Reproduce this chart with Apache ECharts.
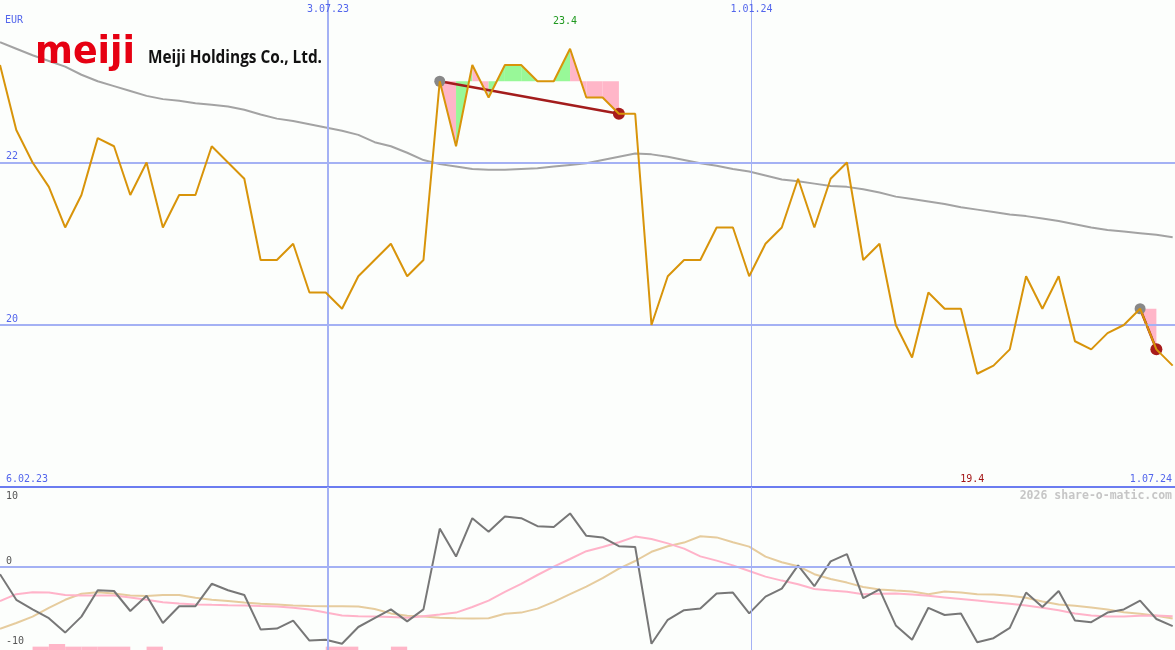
<!DOCTYPE html>
<html><head><meta charset="utf-8">
<script src="https://cdn.jsdelivr.net/npm/echarts@6/dist/echarts.min.js"></script>
<style>html,body{margin:0;padding:0;background:#fcfefc}#c{width:1175px;height:650px}</style>
</head><body><div id="c"></div>
<script>
// ---------- data ----------
const currency = 'EUR';
const companyMark = 'meiji';
const companyName = 'Meiji Holdings Co., Ltd.';
const watermark = '2026 share-o-matic.com';
const startDate = '2023-02-12';      // first weekly point
const endDate = '2024-07-01';        // right edge
const price = [23.2,22.4,22.0,21.7,21.2,21.6,22.3,22.2,21.6,22.0,21.2,21.6,21.6,22.2,22.0,21.8,20.8,20.8,21.0,20.4,
  20.4,20.2,20.6,20.8,21.0,20.6,20.8,23.0,22.2,23.2,22.8,23.2,23.2,23.0,23.0,23.4,22.8,22.8,22.6,22.6,
  20.0,20.6,20.8,20.8,21.2,21.2,20.6,21.0,21.2,21.8,21.2,21.8,22.0,20.8,21.0,20.0,19.6,20.4,20.2,20.2,
  19.4,19.5,19.7,20.6,20.2,20.6,19.8,19.7,19.9,20.0,20.2,19.7,19.5];
const movingAvg = [23.48,23.40,23.32,23.25,23.18,23.08,23.00,22.94,22.88,22.82,22.78,22.76,22.73,22.71,22.69,22.65,22.59,22.54,22.51,22.47,
  22.43,22.39,22.34,22.25,22.20,22.12,22.03,21.98,21.95,21.92,21.91,21.91,21.92,21.93,21.95,21.97,21.99,22.03,22.07,22.11,
  22.10,22.07,22.03,21.99,21.96,21.92,21.89,21.84,21.79,21.77,21.74,21.71,21.70,21.67,21.63,21.58,21.55,21.52,21.49,21.45,
  21.42,21.39,21.36,21.34,21.31,21.28,21.24,21.20,21.17,21.15,21.13,21.11,21.08];
const oscillator = [-0.9,-4.1,-5.3,-6.4,-8.2,-6.2,-2.9,-3.0,-5.5,-3.6,-7.0,-4.9,-4.9,-2.1,-2.9,-3.5,-7.8,-7.7,-6.7,-9.2,
  -9.1,-9.6,-7.5,-6.4,-5.3,-6.8,-5.3,4.8,1.3,6.1,4.4,6.3,6.1,5.1,5.0,6.7,3.9,3.7,2.6,2.5,
  -9.6,-6.6,-5.4,-5.2,-3.3,-3.2,-5.8,-3.7,-2.7,0.2,-2.4,0.7,1.6,-3.9,-2.8,-7.3,-9.1,-5.1,-6.0,-5.8,
  -9.4,-8.9,-7.6,-3.2,-5.0,-3.0,-6.7,-6.9,-5.7,-5.3,-4.2,-6.5,-7.4];
const oscPink = [-4.27,-3.4,-3.15,-3.2,-3.5,-3.56,-3.56,-3.56,-3.8,-4.1,-4.4,-4.55,-4.68,-4.73,-4.77,-4.8,-4.88,-4.95,-5.1,-5.3,
  -5.7,-6.05,-6.17,-6.2,-6.25,-6.35,-6.15,-5.95,-5.7,-5.0,-4.2,-3.1,-2.1,-1.0,0.05,1.0,1.98,2.5,3.1,3.8,
  3.5,2.95,2.3,1.33,0.8,0.2,-0.5,-1.2,-1.7,-2.15,-2.75,-2.95,-3.08,-3.4,-3.35,-3.3,-3.45,-3.6,-3.8,-4.0,
  -4.2,-4.4,-4.6,-4.8,-5.1,-5.4,-5.8,-6.05,-6.2,-6.2,-6.08,-6.05,-6.15];
const oscTan = [-7.73,-7.0,-6.2,-5.1,-4.1,-3.35,-3.15,-3.3,-3.55,-3.62,-3.5,-3.5,-3.85,-4.1,-4.25,-4.45,-4.6,-4.7,-4.8,-4.88,
  -4.9,-4.9,-4.95,-5.25,-5.8,-6.1,-6.2,-6.33,-6.4,-6.43,-6.4,-5.85,-5.7,-5.2,-4.35,-3.4,-2.45,-1.4,-0.2,0.75,
  1.9,2.6,3.05,3.85,3.7,3.1,2.55,1.3,0.6,0.1,-0.9,-1.5,-1.95,-2.5,-2.8,-2.95,-3.05,-3.4,-3.05,-3.2,
  -3.42,-3.44,-3.6,-3.85,-4.3,-4.68,-4.85,-5.05,-5.3,-5.65,-5.85,-6.1,-6.45];
const barWeeks = [2,3,4,5,6,7,9,20,21,24];
const barHeights = [0.42,0.75,0.42,0.42,0.42,0.42,0.42,0.42,0.42,0.42];
const signalStart = [27,70];
const signalEnd = [38,71];
const priceTicks = [22,20];
const oscTicks = [10,0,-10];
const gridDates = ['2023-07-03','2024-01-01'];
const gridDateLabels = ['3.07.23','1.01.24'];
const rangeLabels = ['6.02.23','1.07.24'];

// ---------- styles ----------
const BG = '#fcfefc', gridBlue = '#a4b1f4', borderBlue = '#6b7cf0', labelBlue = '#5366ec';
const mono = '"DejaVu Sans Mono", monospace';
const DAY = 864e5;
const t0 = Date.parse(startDate), tEnd = Date.parse(endDate);
const weekTs = price.map((_, k) => t0 + k * 7 * DAY);
const oscMin = -10.375, oscMax = 10;

const segs = [];
signalStart.forEach((s, i) => {
  const e = signalEnd[i], ref = price[s];
  for (let k = s; k < e; k++) segs.push([weekTs[k], price[k], weekTs[k + 1], price[k + 1], ref]);
});

const vLines = gridDates.map((d, i) => ({xAxis: Date.parse(d), lineStyle: {color: gridBlue, width: i === 0 ? 2 : 1, type: 'solid'}}));

const chart = echarts.init(document.getElementById('c'), null, {renderer: 'canvas'});
const series = [
  {type: 'line', xAxisIndex: 0, yAxisIndex: 0, z: 2, silent: true, symbol: 'none',
   data: weekTs.map((t, k) => [t, movingAvg[k]]), lineStyle: {color: '#a3a3a3', width: 2},
   markLine: {silent: true, symbol: 'none', animation: false, label: {show: false},
     data: priceTicks.map(v => ({yAxis: v, lineStyle: {color: gridBlue, width: 2, type: 'solid'}})).concat(vLines)}},
  {type: 'custom', xAxisIndex: 0, yAxisIndex: 0, z: 3, silent: true, data: segs,
   encode: {x: [0, 2], y: [1, 3, 4]},
   renderItem: (p, api) => {
     const xa = api.value(0), ya = api.value(1), xb = api.value(2), yb = api.value(3), ref = api.value(4);
     return {type: 'polygon', shape: {points: [api.coord([xa, ref]), api.coord([xa, ya]), api.coord([xb, yb]), api.coord([xb, ref])]},
       style: {fill: yb >= ref ? '#98f898' : '#ffb6c8'}};
   }}
];
signalStart.forEach((s, i) => {
  const e = signalEnd[i];
  series.push({type: 'line', xAxisIndex: 0, yAxisIndex: 0, z: 4, silent: true, symbol: 'none',
    data: [[weekTs[s], price[s]], [weekTs[e], price[e]]], lineStyle: {color: '#a31c1c', width: 2.5}});
});
series.push({type: 'scatter', xAxisIndex: 0, yAxisIndex: 0, z: 5, silent: true, symbolSize: 11,
  itemStyle: {color: '#888888', opacity: 1}, data: signalStart.map(s => [weekTs[s], price[s]])});
series.push({type: 'scatter', xAxisIndex: 0, yAxisIndex: 0, z: 5, silent: true, symbolSize: 12,
  itemStyle: {color: '#a81c1c', opacity: 1}, data: signalEnd.map(s => [weekTs[s], price[s]])});
series.push({type: 'line', xAxisIndex: 0, yAxisIndex: 0, z: 6, silent: true, symbol: 'none',
  data: weekTs.map((t, k) => [t, price[k]]), lineStyle: {color: '#d8940a', width: 2}});
// oscillator panel
series.push({type: 'custom', xAxisIndex: 1, yAxisIndex: 1, z: 1, silent: true,
  data: barWeeks.map((k, i) => [weekTs[k], weekTs[k + 1], barHeights[i]]),
  encode: {x: [0, 1], y: 2},
  renderItem: (p, api) => {
    const a = api.coord([api.value(0), oscMin + api.value(2)]), b = api.coord([api.value(1), oscMin]);
    return {type: 'rect', shape: {x: a[0], y: a[1], width: b[0] - a[0], height: b[1] - a[1]}, style: {fill: '#ffb6c8'}};
  }});
series.push({type: 'line', xAxisIndex: 1, yAxisIndex: 1, z: 2, silent: true, symbol: 'none',
  data: weekTs.map((t, k) => [t, oscTan[k]]), lineStyle: {color: '#e6cc9e', width: 2},
  markLine: {silent: true, symbol: 'none', animation: false, label: {show: false},
    data: [{yAxis: oscTicks[0], lineStyle: {color: borderBlue, width: 2, type: 'solid'}},
           {yAxis: oscTicks[1], lineStyle: {color: gridBlue, width: 2, type: 'solid'}}].concat(vLines)}});
series.push({type: 'line', xAxisIndex: 1, yAxisIndex: 1, z: 3, silent: true, symbol: 'none',
  data: weekTs.map((t, k) => [t, oscPink[k]]), lineStyle: {color: '#ffb3c9', width: 2}});
series.push({type: 'line', xAxisIndex: 1, yAxisIndex: 1, z: 4, silent: true, symbol: 'none',
  data: weekTs.map((t, k) => [t, oscillator[k]]), lineStyle: {color: '#777777', width: 2}});

chart.setOption({
  animation: false,
  backgroundColor: BG,
  grid: [{left: 0, right: 0, top: 0, height: 487}, {left: 0, right: 0, top: 487, height: 163}],
  xAxis: [{gridIndex: 0, type: 'time', min: t0, max: tEnd, show: false},
          {gridIndex: 1, type: 'time', min: t0, max: tEnd, show: false}],
  yAxis: [{gridIndex: 0, type: 'value', min: 18.006, max: 24, show: false},
          {gridIndex: 1, type: 'value', min: oscMin, max: oscMax, show: false}],
  series: series
});

// ---------- texts ----------
const px = t => chart.convertToPixel({xAxisIndex: 0}, t);
const pyMain = v => chart.convertToPixel({yAxisIndex: 0}, v);
const pyOsc = v => chart.convertToPixel({yAxisIndex: 1}, v);
function measure(text, font) { const c = document.createElement('canvas').getContext('2d'); c.font = font; return c.measureText(text).width; }
const W = chart.getWidth();
const txt = (x, y, text, fill, font, align, va, extra) => Object.assign({type: 'text', x: x, y: y, silent: true, z: 100,
  style: {text: text, fill: fill, font: font, align: align || 'left', verticalAlign: va || 'middle'}}, extra || {});
const g = [];
g.push(txt(5, 20, currency, labelBlue, '10px ' + mono));
priceTicks.forEach(v => g.push(txt(6, pyMain(v) - 1, String(v), labelBlue, '10px ' + mono, 'left', 'bottom')));
const oscTop = pyOsc(oscMax);
oscTicks.forEach(v => g.push(txt(6, Math.max(pyOsc(v) - 1, oscTop + 14), String(v), '#555555', '10px ' + mono, 'left', 'bottom')));
gridDates.forEach((d, i) => g.push(txt(px(Date.parse(d)), 9, gridDateLabels[i], labelBlue, '10px ' + mono, 'center')));
g.push(txt(6, 479, rangeLabels[0], labelBlue, '10px ' + mono, 'left'));
g.push(txt(W - 3, 479, rangeLabels[1], labelBlue, '10px ' + mono, 'right'));
let kMax = 0, kMin = 0;
price.forEach((v, k) => { if (v > price[kMax]) kMax = k; if (v < price[kMin]) kMin = k; });
g.push(txt(px(weekTs[kMax]) - 5, 21, price[kMax].toFixed(1), '#1f991f', '10px ' + mono, 'center'));
g.push(txt(px(weekTs[kMin]) - 5, 479, price[kMin].toFixed(1), '#a31515', '10px ' + mono, 'center'));
g.push(txt(W - 3, 496, watermark, '#c6c6c6', 'bold 11.5px ' + mono, 'right'));
const markFont = 'bold 37px "DejaVu Sans"';
g.push(txt(35, 53, companyMark, '#e60012', markFont, 'left', 'middle', {scaleX: 100 / measure(companyMark, markFont)}));
const nameFont = 'bold 18px "Open Sans"';
g.push(txt(148, 58, companyName, '#111111', nameFont, 'left', 'middle', {scaleX: 174 / measure(companyName, nameFont)}));
chart.setOption({graphic: {elements: g}});
</script></body></html>
